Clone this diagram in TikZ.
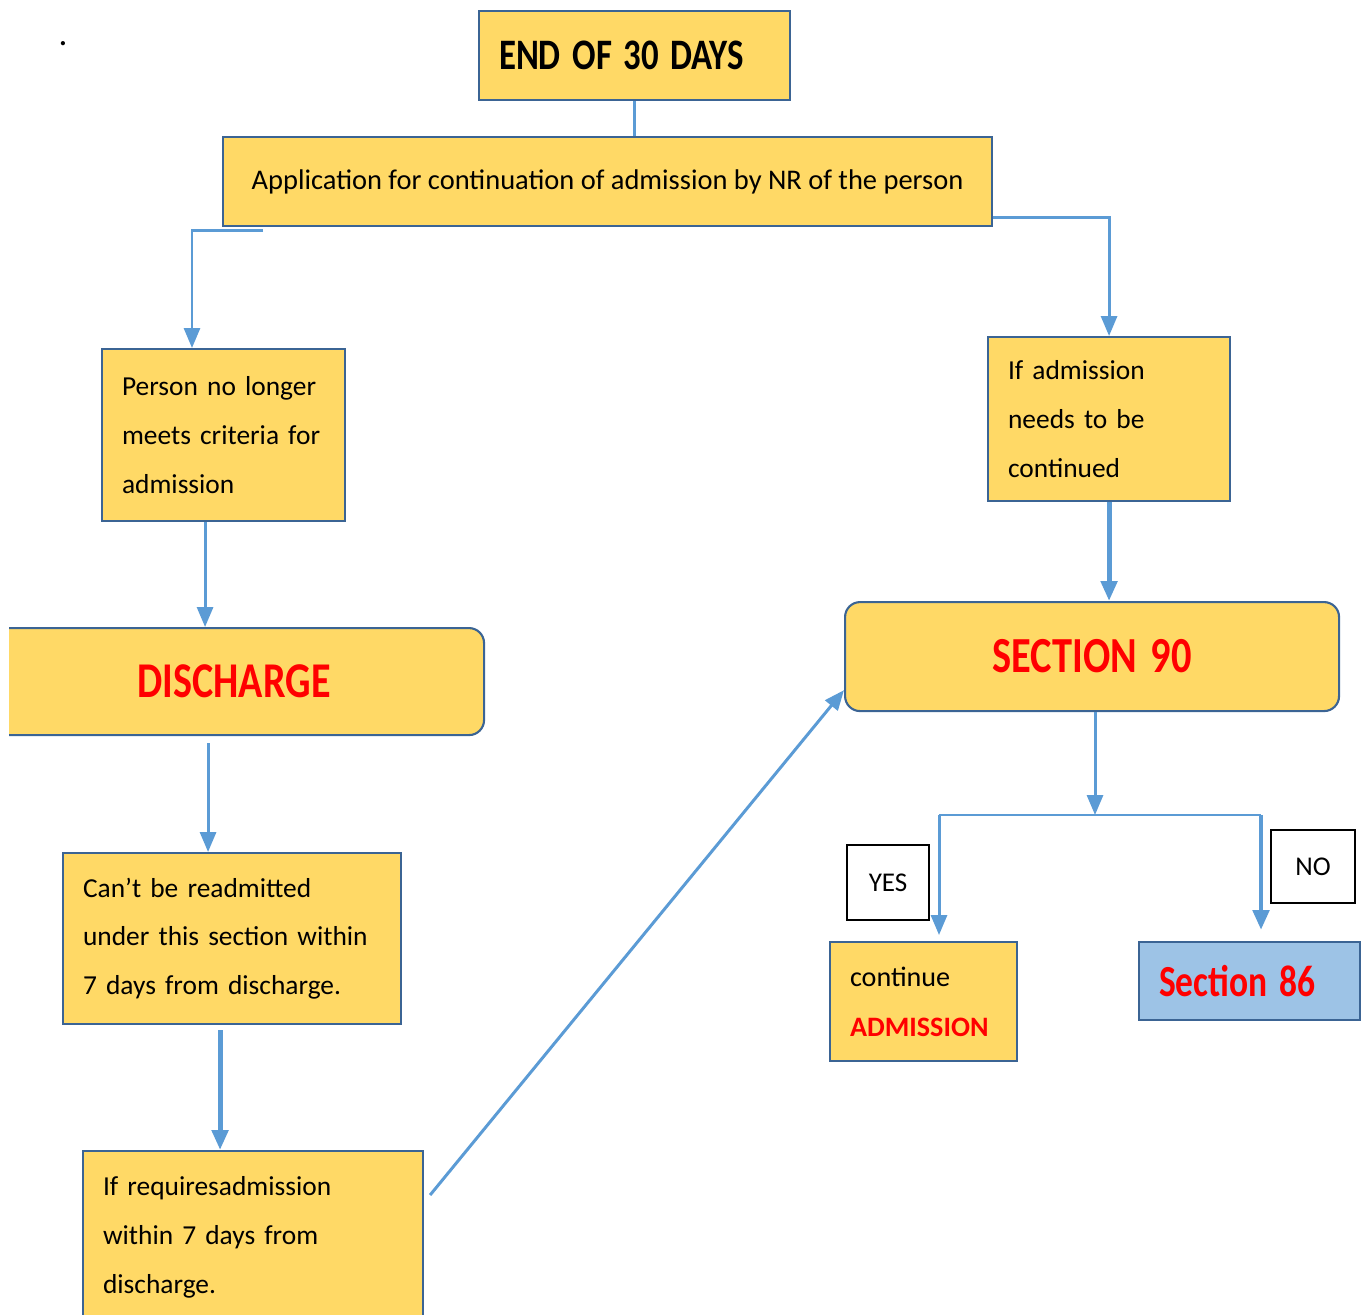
\documentclass[tikz,border=0pt]{standalone}
\usepackage{fontspec}
\setmainfont{Carlito}
\usetikzlibrary{arrows.meta}
\usetikzlibrary{calc}
\definecolor{boxfill}{HTML}{FFD966}
\definecolor{boxline}{HTML}{3B6494}
\definecolor{linkblue}{HTML}{5B9BD5}
\definecolor{secfill}{HTML}{9DC3E6}
\definecolor{redtext}{HTML}{FF0000}
\newcommand{\tallword}[1]{\scalebox{1}[1.25]{#1}}

\begin{document}
\begin{tikzpicture}[x=0.1mm, y=-0.1mm,
  box/.style={draw=boxline, fill=boxfill, line width=0.6pt, anchor=north west, inner ysep=0pt, inner xsep=2mm, align=left, font=\fontsize{7.8}{13.9}\selectfont},
  roundbox/.style={box, rounded corners=1.5mm, align=center},
  answer/.style={draw=black, fill=white, line width=0.6pt, anchor=north west, inner sep=0pt, font=\fontsize{7.7}{9}\selectfont},
  link/.style={draw=linkblue, line width=0.85pt},
  heavy/.style={draw=linkblue, line width=1.4pt},
  >={Triangle[length=2mm,width=1.6mm]}]
\useasboundingbox (0,0) rectangle (1362,1314);
\clip (9,0) rectangle (1362,1314);
\node (dot) at (63,44) {.};
\node[box, text width=27.1mm, minimum height=8.9mm, font=\fontsize{9.9}{12}\selectfont\bfseries] (end) at (478,10) {\tallword{END OF 30 DAYS}};
\node[box, minimum width=76.9mm, minimum height=8.9mm, align=center, font=\fontsize{8.1}{10}\selectfont] (app) at (222,136) {Application for continuation of admission by NR of the person};
\node[box, text width=20.3mm, minimum height=17.2mm] (person) at (101,348) {Person no longer\\meets criteria for\\admission};
\node[box, text width=20.2mm, minimum height=16.4mm] (adm) at (987,336) {If admission\\needs to be\\continued};
\node[roundbox, text width=45.4mm, minimum height=10.9mm, font=\fontsize{11.5}{14}\selectfont\bfseries, text=redtext] (sec90) at (844,601) {\tallword{SECTION 90}};
\node[roundbox, text width=46mm, minimum height=10.7mm, font=\fontsize{11.4}{14}\selectfont\bfseries, text=redtext] (dis) at (-17,627) {\tallword{DISCHARGE}};
\node[box, text width=29.8mm, minimum height=17.1mm] (can) at (62,852) {Can’t be readmitted\\under this section within\\7 days from discharge.};
\node[box, text width=30mm, minimum height=17.2mm] (req) at (82,1150) {If requiresadmission\\within 7 days from\\discharge.};
\node[answer, minimum width=8.2mm, minimum height=7.5mm] (yes) at (846,844) {YES};
\node[answer, minimum width=8.4mm, minimum height=7.3mm] (no) at (1270,829) {NO};
\node[box, text width=14.7mm, minimum height=11.9mm, font=\fontsize{8}{14.2}\selectfont] (cont) at (829,941) {continue\\\textcolor{redtext}{\textbf{ADMISSION}}};
\node[box, fill=secfill, text width=18.1mm, minimum height=7.8mm, font=\fontsize{10.1}{12}\selectfont\bfseries, text=redtext] (s86) at (1138,941) {\tallword{Section 86}};
\draw[link] (end.south) -- (end.south |- app.north);
\draw[link,->] ([xshift=4.1mm,yshift=-0.3mm]app.south west) -| ([xshift=9.1mm]person.north west);
\draw[link,->] ([yshift=1mm]app.south east) -| (adm.north);
\draw[heavy,->] (adm.south) -- (adm.south |- sec90.north);
\draw[link,->] ([xshift=-1.85mm]person.south) -- ([xshift=-1.85mm]person.south |- dis.north);
\draw[link,->,shorten <=0.7mm] ([xshift=-2.6mm]dis.south) -- ([xshift=-2.6mm]dis.south |- can.north);
\draw[heavy,->,shorten <=0.5mm] ([xshift=-1.2mm]can.south) -- ([xshift=-1.2mm]can.south |- req.north);
\draw[link,->] ([xshift=0.6mm,yshift=-4.5mm]req.north east) -- ([yshift=2.2mm]sec90.south west);
\coordinate (fork) at (1095,815);
\coordinate (yesturn) at (939,815);
\coordinate (noturn) at (1261,815);
\draw[link,->] (fork |- sec90.south) -- (fork);
\draw[link, line width=0.6pt] (yesturn) -- (noturn);
\draw[link,->,shorten >=0.6mm] (yesturn) -- (yesturn |- cont.north);
\draw[heavy,->,shorten >=1.1mm] (noturn) -- (noturn |- s86.north);
\end{tikzpicture}
\end{document}
